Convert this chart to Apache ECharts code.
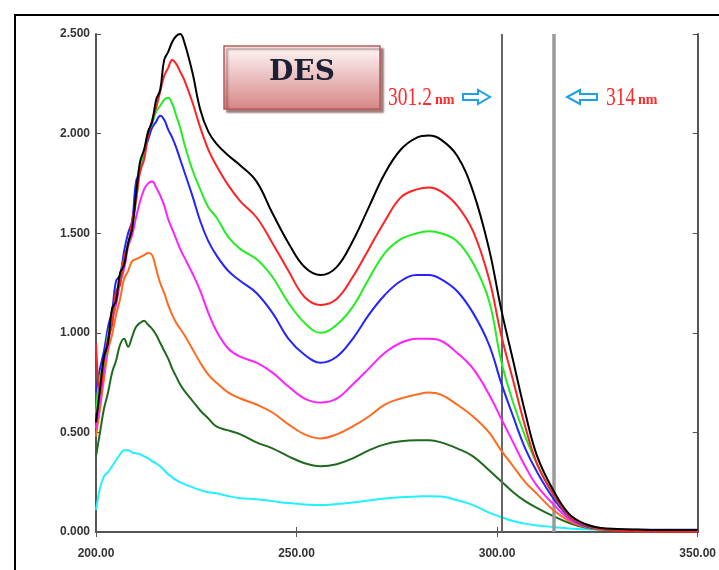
<!DOCTYPE html>
<html><head><meta charset="utf-8">
<script src="https://cdn.jsdelivr.net/npm/echarts@6/dist/echarts.min.js"></script>
<style>html,body{margin:0;padding:0;background:#fff}#c{width:719px;height:570px}</style>
</head><body><div id="c"></div>
<script>
var wavelengths = [200,201,202,203,204,205,206,207,208,209,210,211,212,213,214,215,216,217,218,219,220,221,222,224,226,228,230,233,236,240,244,248,252,256,260,264,268,272,276,280,283,286,290,294,298,301,304,307,310,314,318,322,326,330,335,340,345,350];

var seriesBlack = [0.55,0.72,0.88,0.95,1.12,1.16,1.30,1.34,1.45,1.52,1.70,1.86,1.92,2.01,2.06,2.17,2.22,2.37,2.41,2.46,2.49,2.50,2.46,
  2.31,2.12,2.01,1.95,1.89,1.84,
  1.76,1.60,1.45,1.33,1.29,1.33,1.46,1.63,1.80,1.92,1.98,
  1.99,1.97, 1.89,1.71,1.42, 1.12,0.86,0.60,0.38, 0.21,0.09,0.04,0.02,0.015, 0.012,0.01,0.01,0.01];
var seriesRed = [0.95,0.70,0.86,0.97,1.04,1.21,1.24,1.38,1.44,1.56,1.67,1.81,1.87,1.99,2.07,2.13,2.21,2.29,2.33,2.37,2.35,2.31,2.27,
  2.16,2.03,1.92,1.84,1.74,1.66,
  1.58,1.45,1.31,1.18,1.14,1.17,1.28,1.42,1.56,1.68,1.72,
  1.73,1.71, 1.64,1.51,1.27, 0.99,0.76,0.53,0.34, 0.19,0.08,0.035,0.015,0.008, 0.004,0.002,0.001,0.001];
var seriesGreen = [0.60,0.78,0.84,0.99,1.07,1.19,1.28,1.37,1.44,1.53,1.66,1.83,1.91,2.01,2.05,2.11,2.14,2.17,2.18,2.15,2.09,2.03,1.95,
  1.82,1.72,1.63,1.58,1.48,1.42,
  1.37,1.28,1.15,1.05,1.00,1.04,1.13,1.27,1.40,1.47,1.50,
  1.51,1.50, 1.46,1.35,1.16, 0.86,0.65,0.48,0.34, 0.19,0.08,0.035,0.015,0.01, 0.008,0.006,0.005,0.005];
var seriesBlue = [0.70,0.82,0.91,1.03,1.11,1.26,1.29,1.41,1.50,1.56,1.76,1.81,1.91,1.97,2.03,2.06,2.09,2.07,2.02,1.98,1.93,1.87,1.81,
  1.69,1.56,1.46,1.39,1.31,1.26,
  1.20,1.10,0.97,0.89,0.85,0.88,0.97,1.09,1.19,1.26,1.29,
  1.29,1.27, 1.21,1.10,0.94, 0.75,0.58,0.42,0.30, 0.17,0.075,0.03,0.015,0.012, 0.011,0.011,0.011,0.011];
var seriesMagenta = [0.52,0.66,0.81,0.94,1.06,1.14,1.25,1.32,1.43,1.49,1.58,1.66,1.72,1.75,1.76,1.73,1.69,1.64,1.57,1.52,1.47,1.42,1.38,
  1.30,1.21,1.10,1.01,0.92,0.88,
  0.85,0.80,0.73,0.67,0.65,0.67,0.74,0.82,0.90,0.95,0.97,
  0.97,0.96, 0.90,0.82,0.69, 0.57,0.45,0.33,0.23, 0.14,0.065,0.03,0.015,0.01, 0.009,0.008,0.008,0.008];
var seriesOrange = [0.48,0.62,0.77,0.91,0.99,1.09,1.17,1.27,1.31,1.36,1.37,1.38,1.39,1.40,1.39,1.32,1.25,1.20,1.14,1.09,1.05,1.02,0.99,
  0.92,0.85,0.79,0.75,0.70,0.67,
  0.64,0.60,0.54,0.49,0.47,0.49,0.53,0.58,0.64,0.67,0.69,
  0.70,0.69, 0.64,0.58,0.50, 0.41,0.33,0.25,0.19, 0.11,0.055,0.025,0.012,0.01, 0.01,0.01,0.01,0.01];
var seriesDarkGreen = [0.38,0.50,0.62,0.70,0.80,0.86,0.94,0.97,0.93,0.98,1.03,1.05,1.06,1.04,1.02,0.99,0.95,0.91,0.87,0.82,0.78,0.74,0.71,
  0.66,0.61,0.57,0.53,0.51,0.49,
  0.45,0.42,0.38,0.345,0.33,0.34,0.37,0.41,0.44,0.455,0.46,
  0.46,0.45, 0.42,0.38,0.31, 0.255,0.20,0.155,0.12, 0.08,0.045,0.022,0.012,0.008, 0.006,0.005,0.005,0.005];
var seriesCyan = [0.11,0.22,0.28,0.30,0.33,0.36,0.39,0.41,0.41,0.40,0.395,0.39,0.38,0.37,0.355,0.345,0.33,0.31,0.29,0.275,0.26,0.25,0.24,
  0.225,0.21,0.20,0.195,0.18,0.17,
  0.165,0.155,0.145,0.138,0.135,0.14,0.148,0.158,0.168,0.175,0.178,
  0.18,0.178, 0.16,0.135,0.097, 0.075,0.055,0.042,0.033, 0.025,0.018,0.014,0.012,0.01, 0.01,0.01,0.01,0.01];

var seriesList = [
  {name:'S1', data: seriesBlack, color:'#000000'},
  {name:'S2', data: seriesRed, color:'#ff2222'},
  {name:'S3', data: seriesGreen, color:'#22ee22'},
  {name:'S4', data: seriesBlue, color:'#2424ff'},
  {name:'S5', data: seriesMagenta, color:'#ff22ff'},
  {name:'S6', data: seriesOrange, color:'#ff6a1f'},
  {name:'S7', data: seriesDarkGreen, color:'#1e6a1e'},
  {name:'S8', data: seriesCyan, color:'#22f0ff'}
];
var markerWavelengths = [301.2, 314];
var xTicks = [200, 350, 50];
var yTicks = [0, 2.5, 0.5];

function pairs(arr){ return wavelengths.map(function(w,i){ return [w, arr[i]]; }); }

var series = seriesList.map(function(s, idx){
  return {
    name: s.name, type:'line', data: pairs(s.data), showSymbol:false, smooth:0.4,
    lineStyle:{color:s.color, width:2}, itemStyle:{color:s.color}, z: 10 - idx,
    silent:true, animation:false
  };
});
series[0].markLine = {
  silent:true, symbol:['none','none'], label:{show:false}, animation:false,
  data:[
    {xAxis: markerWavelengths[0], lineStyle:{color:'#666', width:2, type:'solid'}},
    {xAxis: markerWavelengths[1], lineStyle:{color:'#9a9a9a', width:3.5, type:'solid'}}
  ]
};

var axisFont = {fontFamily:'Liberation Sans', fontSize:12, color:'#333', fontWeight:'bold'};
var lineStyleAxis = {color:'#555', width:2};

var chart = echarts.init(document.getElementById('c'), null, {renderer:'canvas'});
chart.setOption({
  animation:false,
  backgroundColor:'#fff',
  grid:{left:96, right:21, top:34, bottom:38},
  xAxis:[
    {type:'value', min:xTicks[0], max:xTicks[1], interval:xTicks[2], position:'bottom',
     axisLine:{lineStyle:lineStyleAxis}, axisTick:{inside:true, length:5, lineStyle:{color:'#555'}},
     splitLine:{show:false},
     axisLabel:Object.assign({margin:16, formatter:function(v){return v.toFixed(2);}}, axisFont)},
    {type:'value', min:xTicks[0], max:xTicks[1], interval:xTicks[2], position:'top',
     axisLine:{lineStyle:lineStyleAxis}, axisTick:{inside:true, length:5, lineStyle:{color:'#555'}},
     splitLine:{show:false}, axisLabel:{show:false}}
  ],
  yAxis:[
    {type:'value', min:yTicks[0], max:yTicks[1], interval:yTicks[2], position:'left',
     axisLine:{lineStyle:lineStyleAxis}, axisTick:{inside:true, length:5, lineStyle:{color:'#555'}},
     splitLine:{show:false},
     axisLabel:Object.assign({margin:6, formatter:function(v){return v.toFixed(3);}}, axisFont)},
    {type:'value', min:yTicks[0], max:yTicks[1], interval:yTicks[2], position:'right',
     axisLine:{lineStyle:lineStyleAxis}, axisTick:{inside:true, length:5, lineStyle:{color:'#555'}},
     splitLine:{show:false}, axisLabel:{show:false}}
  ],
  series: series,
  graphic:[
    {type:'rect', shape:{x:15,y:15,width:800,height:700}, style:{fill:'none', stroke:'#000', lineWidth:2}, z:100, silent:true},
    {type:'rect', shape:{x:224,y:46,width:156,height:63},
     style:{fill:new echarts.graphic.LinearGradient(0,0,0,1,[{offset:0,color:'#fff8f8'},{offset:1,color:'#d68585'}]),
            stroke:'#b85a5a', lineWidth:1.5, shadowBlur:2, shadowOffsetX:3, shadowOffsetY:3, shadowColor:'rgba(90,30,30,0.55)'}, z:100},
    {type:'text', x:302, y:73, z:101,
     style:{text:'DES', font:'bold 28px "DejaVu Serif"', fill:'#1b2035', textAlign:'center', textVerticalAlign:'middle'}},
    {type:'text', x:388, y:98, scaleX:0.75, z:101,
     style:{text:'301.2', font:'26px "Liberation Serif"', fill:'#ff2a2a', textAlign:'left', textVerticalAlign:'middle'}},
    {type:'text', x:435, y:100, z:101,
     style:{text:'nm', font:'bold 14px "Liberation Serif"', fill:'#ff2a2a', textAlign:'left', textVerticalAlign:'middle'}},
    {type:'polygon', z:101, shape:{points:[[463,94],[478,94],[478,90],[490,97],[478,104],[478,100],[463,100]]},
     style:{fill:'#fff', stroke:'#1ea0e6', lineWidth:2}},
    {type:'polygon', z:101, shape:{points:[[597,94],[580,94],[580,90],[567,97],[580,104],[580,100],[597,100]]},
     style:{fill:'#fff', stroke:'#1ea0e6', lineWidth:2}},
    {type:'text', x:606, y:98, scaleX:0.75, z:101,
     style:{text:'314', font:'26px "Liberation Serif"', fill:'#ff2a2a', textAlign:'left', textVerticalAlign:'middle'}},
    {type:'text', x:638, y:100, z:101,
     style:{text:'nm', font:'bold 14px "Liberation Serif"', fill:'#ff2a2a', textAlign:'left', textVerticalAlign:'middle'}}
  ]
});
</script></body></html>
